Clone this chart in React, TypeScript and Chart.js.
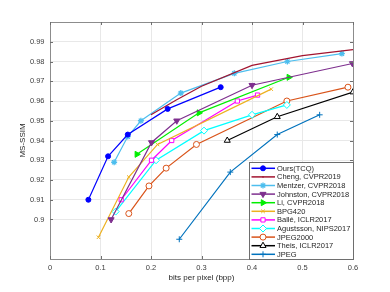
import React, { useEffect, useRef } from 'react';
import { Chart, registerables } from 'chart.js';
import { drawPoint } from 'chart.js/helpers';

Chart.register(...registerables);

// ---- data ----
const seriesLabels = [
  'Ours(TCQ)', 'Cheng, CVPR2019', 'Mentzer, CVPR2018', 'Johnston, CVPR2018', 'Li, CVPR2018',
  'BPG420', 'Ballé, ICLR2017', 'Agustsson, NIPS2017', 'JPEG2000', 'Theis, ICLR2017', 'JPEG',
];

const oursX = [0.076, 0.115, 0.154, 0.233, 0.338];
const oursY = [0.910, 0.932, 0.943, 0.956, 0.967];

const chengX = [0.2, 0.25, 0.3, 0.4, 0.5, 0.6];
const chengY = [0.953, 0.9605, 0.9675, 0.978, 0.983, 0.986];

const mentzerX = [0.127, 0.154, 0.180, 0.259, 0.365, 0.470, 0.578];
const mentzerY = [0.929, 0.942, 0.950, 0.964, 0.974, 0.980, 0.984];

const johnstonX = [0.121, 0.201, 0.251, 0.400, 0.599];
const johnstonY = [0.900, 0.939, 0.950, 0.968, 0.979];

const liX = [0.172, 0.295, 0.473];
const liY = [0.933, 0.954, 0.972];

const bpgX = [0.096, 0.156, 0.213, 0.438];
const bpgY = [0.891, 0.9215, 0.938, 0.966];

const balleX = [0.141, 0.201, 0.241, 0.371, 0.411];
const balleY = [0.910, 0.930, 0.940, 0.960, 0.963];

const agustssonX = [0.130, 0.210, 0.305, 0.400, 0.469];
const agustssonY = [0.904, 0.930, 0.945, 0.953, 0.958];

const jpeg2000X = [0.156, 0.196, 0.230, 0.290, 0.469, 0.590];
const jpeg2000Y = [0.903, 0.917, 0.926, 0.938, 0.960, 0.967];

const theisX = [0.351, 0.450, 0.600];
const theisY = [0.940, 0.952, 0.9645];

const jpegX = [0.256, 0.357, 0.450, 0.534];
const jpegY = [0.890, 0.924, 0.943, 0.953];

const xTicks = [0, 0.1, 0.2, 0.3, 0.4, 0.5, 0.6];
const yTicks = [0.90, 0.91, 0.92, 0.93, 0.94, 0.95, 0.96, 0.97, 0.98, 0.99];

const seriesXs = [oursX, chengX, mentzerX, johnstonX, liX, bpgX, balleX, agustssonX, jpeg2000X, theisX, jpegX];
const seriesYs = [oursY, chengY, mentzerY, johnstonY, liY, bpgY, balleY, agustssonY, jpeg2000Y, theisY, jpegY];

// ---- styles ----
const colors = ['#0000ff', '#a2142f', '#4dbeee', '#7e2f8e', '#00ee00', '#edb120', '#ff00ff', '#00ffff', '#d95319', '#000000', '#0072bd'];
const styles: any[] = [
  { ps: 'circle', r: 2.5, rot: 0, fill: true },
  { ps: 'circle', r: 0, rot: 0, fill: true },
  { ps: 'star', r: 3, rot: 0, fill: true, bw: 1.3 },
  { ps: 'triangle', r: 3.5, rot: 180, fill: true },
  { ps: 'triangle', r: 3.5, rot: 90, fill: true },
  { ps: 'crossRot', r: 2.5, rot: 0, fill: false },
  { ps: 'rect', r: 3, rot: 0, fill: false },
  { ps: 'rectRot', r: 3.5, rot: 0, fill: false },
  { ps: 'circle', r: 3, rot: 0, fill: false },
  { ps: 'triangle', r: 3.5, rot: 0, fill: false },
  { ps: 'cross', r: 3, rot: 0, fill: false },
];

const boxPlugin = {
  id: 'matlabBox',
  afterDraw(chart: any) {
    const { ctx, chartArea: a, scales } = chart;
    ctx.save();
    // box
    ctx.strokeStyle = '#8c8c8c';
    ctx.lineWidth = 1;
    ctx.strokeRect(Math.round(a.left) + 0.5, Math.round(a.top) + 0.5, Math.round(a.right - a.left), Math.round(a.bottom - a.top));
    // inward ticks
    ctx.strokeStyle = '#6e6e6e';
    const tl = 3;
    ctx.beginPath();
    scales.x.ticks.forEach((t: any) => {
      const px = Math.round(scales.x.getPixelForValue(t.value)) + 0.5;
      ctx.moveTo(px, a.bottom); ctx.lineTo(px, a.bottom - tl);
      ctx.moveTo(px, a.top); ctx.lineTo(px, a.top + tl);
    });
    scales.y.ticks.forEach((t: any) => {
      const py = Math.round(scales.y.getPixelForValue(t.value)) + 0.5;
      ctx.moveTo(a.left, py); ctx.lineTo(a.left + tl, py);
      ctx.moveTo(a.right, py); ctx.lineTo(a.right - tl, py);
    });
    ctx.stroke();

    // legend
    const lx0 = 249.5, lx1 = Math.round(a.right) + 0.5, ly0 = 162.5, ly1 = Math.round(a.bottom) + 0.5;
    ctx.fillStyle = '#ffffff';
    ctx.fillRect(lx0, ly0, lx1 - lx0, ly1 - ly0);
    ctx.strokeStyle = '#6e6e6e';
    ctx.strokeRect(lx0, ly0, lx1 - lx0, ly1 - ly0);
    ctx.font = '7.5px "Liberation Sans", Arial, sans-serif';
    ctx.textBaseline = 'middle';
    ctx.textAlign = 'left';
    const rowH = 8.6;
    chart.data.datasets.forEach((ds: any, i: number) => {
      const y = 168.3 + i * rowH;
      const st = styles[i];
      ctx.strokeStyle = colors[i];
      ctx.lineWidth = 1.5;
      ctx.beginPath();
      ctx.moveTo(251.5, y); ctx.lineTo(275, y);
      ctx.stroke();
      if (st.r > 0) {
        ctx.fillStyle = st.fill ? colors[i] : '#ffffff';
        ctx.lineWidth = st.bw || 1;
        drawPoint(ctx, { pointStyle: st.ps, radius: st.r, rotation: st.rot, borderWidth: st.bw || 1 } as any, 263, y);
      } else {
        ctx.fillStyle = colors[i];
        ctx.beginPath(); ctx.arc(263, y, 0.8, 0, Math.PI * 2); ctx.fill();
      }
      ctx.fillStyle = '#262626';
      ctx.fillText(ds.label, 277, y + 0.5);
    });
    ctx.restore();
  },
};

export default function App() {
  const ref = useRef<HTMLCanvasElement>(null);
  useEffect(() => {
    if (!ref.current) return;
    const datasets = seriesLabels.map((label, i) => ({
      label,
      data: seriesXs[i].map((x, j) => ({ x, y: seriesYs[i][j] })),
      borderColor: colors[i],
      backgroundColor: colors[i],
      borderWidth: 1.2,
      pointStyle: styles[i].ps,
      pointRadius: styles[i].r,
      pointRotation: styles[i].rot,
      pointBorderWidth: styles[i].bw || 1,
      pointBackgroundColor: styles[i].fill ? colors[i] : '#ffffff',
      pointBorderColor: colors[i],
      tension: 0,
      fill: false,
    }));
    const chart = new Chart(ref.current, {
      type: 'line',
      data: { datasets },
      options: {
        animation: false,
        responsive: false,
        devicePixelRatio: 1,
        layout: { padding: { left: 0, right: 37, top: 22, bottom: 0 } },
        plugins: { legend: { display: false }, tooltip: { enabled: false } },
        scales: {
          x: {
            type: 'linear',
            min: 0,
            max: 0.6,
            afterBuildTicks: (s: any) => { s.ticks = xTicks.map((v) => ({ value: v })); },
            afterFit: (s: any) => { s.height = 33; },
            border: { display: false },
            grid: { color: '#e8e8e8', drawTicks: false },
            ticks: {
              padding: 4,
              color: '#404040',
              font: { size: 7.5, family: '"Liberation Sans", Arial, sans-serif' },
              callback: (v: any) => String(Number(Number(v).toFixed(2))),
            },
            title: {
              display: true,
              text: 'bits per pixel (bpp)',
              color: '#262626',
              font: { size: 8, family: '"Liberation Sans", Arial, sans-serif' },
              padding: { top: 0, bottom: 9 },
            },
          },
          y: {
            type: 'linear',
            min: 0.88,
            max: 1.0,
            afterBuildTicks: (s: any) => { s.ticks = yTicks.map((v) => ({ value: v })); },
            afterFit: (s: any) => { s.width = 50; },
            border: { display: false },
            grid: { color: '#e8e8e8', drawTicks: false },
            ticks: {
              padding: 5.5,
              color: '#404040',
              font: { size: 7.5, family: '"Liberation Sans", Arial, sans-serif' },
              callback: (v: any) => String(Number(Number(v).toFixed(2))),
            },
            title: {
              display: true,
              text: 'MS-SSIM',
              color: '#262626',
              font: { size: 8, family: '"Liberation Sans", Arial, sans-serif' },
              padding: { top: 18, bottom: 0 },
            },
          },
        },
      },
      plugins: [boxPlugin],
    });
    return () => chart.destroy();
  }, []);
  return (
    <div style={{ position: 'fixed', left: 0, top: 0, width: 390, height: 292, background: '#fff' }}>
      <canvas ref={ref} width={390} height={292} />
    </div>
  );
}
